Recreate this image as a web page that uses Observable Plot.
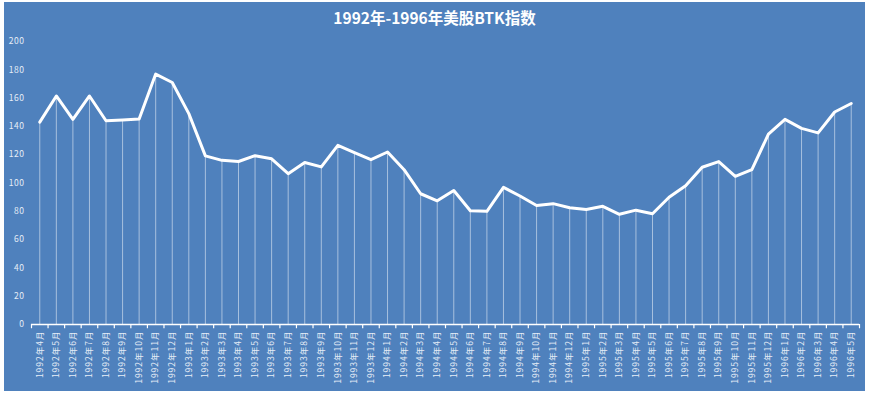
<!DOCTYPE html>
<html>
<head>
<meta charset="utf-8">
<script src="https://cdn.jsdelivr.net/npm/d3@7"></script>
<script src="https://cdn.jsdelivr.net/npm/@observablehq/plot@0.6"></script>
<style>
  html, body { margin: 0; padding: 0; background: #ffffff; }
  #frame { position: absolute; left: 4px; top: 2px; width: 861px; height: 389px; background: #4f81bd; }
  #title { height: 30px; line-height: 30px; text-align: center; color: #ffffff; font-family: "Noto Sans CJK SC", "Noto Sans", sans-serif; font-weight: bold; font-size: 15.5px; }
  #chart svg { display: block; }
  #chart g[aria-label="x-axis tick label"] text { letter-spacing: 1px; }
  #chart g[aria-label="y-axis tick label"] text { letter-spacing: 0.5px; }
</style>
</head>
<body>
<div id="frame">
  <div id="title">1992年-1996年美股BTK指数</div>
  <div id="chart"></div>
</div>
<script>
const months = [
  "1992年4月","1992年5月","1992年6月","1992年7月","1992年8月","1992年9月","1992年10月","1992年11月","1992年12月",
  "1993年1月","1993年2月","1993年3月","1993年4月","1993年5月","1993年6月","1993年7月","1993年8月","1993年9月","1993年10月","1993年11月","1993年12月",
  "1994年1月","1994年2月","1994年3月","1994年4月","1994年5月","1994年6月","1994年7月","1994年8月","1994年9月","1994年10月","1994年11月","1994年12月",
  "1995年1月","1995年2月","1995年3月","1995年4月","1995年5月","1995年6月","1995年7月","1995年8月","1995年9月","1995年10月","1995年11月","1995年12月",
  "1996年1月","1996年2月","1996年3月","1996年4月","1996年5月"
];
const btk = [
  143, 161.5, 145, 161.5, 144, 144.6, 145.3, 177, 171,
  149, 119.2, 116, 115.2, 119.3, 117.1, 106.6, 114.5, 111.4, 126.6, 121.5, 116.5,
  121.9, 109.4, 92.4, 87.4, 94.7, 80.4, 80, 96.9, 90.8, 84.1, 85.4, 82.5,
  81.3, 83.5, 77.9, 80.8, 78.3, 89.9, 98.1, 111.1, 115.1, 104.7, 109.4, 134.5,
  145, 138.6, 135.4, 150.2, 156.2
];
const yTicks = [0, 20, 40, 60, 80, 100, 120, 140, 160, 180, 200];

const data = months.map((m, i) => ({month: m, value: btk[i]}));

const W = 861, H = 359, ML = 27, MR = 6, MT = 9, MB = 67;
const step = (W - ML - MR) / months.length;

const chart = Plot.plot({
  width: W,
  height: H,
  marginLeft: ML,
  marginRight: MR,
  marginTop: MT,
  marginBottom: MB,
  style: {background: "transparent", color: "#ffffff", fontFamily: "\"Noto Sans CJK SC\", \"Noto Sans\", sans-serif", overflow: "visible"},
  x: {type: "point", domain: months, padding: 0.5, round: false, label: null},
  y: {domain: [0, 200], label: null},
  marks: [
    Plot.ruleX(data, {x: "month", y1: 0, y2: "value", stroke: "#ffffff", strokeOpacity: 0.5, strokeWidth: 1}),
    Plot.ruleY([0], {stroke: "#ffffff", strokeWidth: 1.5}),
    // Excel-style tick marks at category boundaries, just below the axis
    Plot.ruleX(months, {x: d => d, y1: 0, y2: -3, dx: -step / 2, stroke: "#ffffff", strokeWidth: 1.2}),
    Plot.ruleX(months.slice(-1), {x: d => d, y1: 0, y2: -3, dx: step / 2, stroke: "#ffffff", strokeWidth: 1.2}),
    Plot.axisX({tickSize: 0, tickRotate: -90, tickPadding: 6, fontSize: 8.5, fill: "#e6edf7", label: null}),
    Plot.axisY({ticks: yTicks, tickSize: 0, tickPadding: 7, fontSize: 8.5, fill: "#e6edf7", label: null}),
    Plot.line(data, {x: "month", y: "value", stroke: "#ffffff", strokeWidth: 3, strokeLinejoin: "round"})
  ]
});
document.getElementById("chart").appendChild(chart);
</script>
</body>
</html>
